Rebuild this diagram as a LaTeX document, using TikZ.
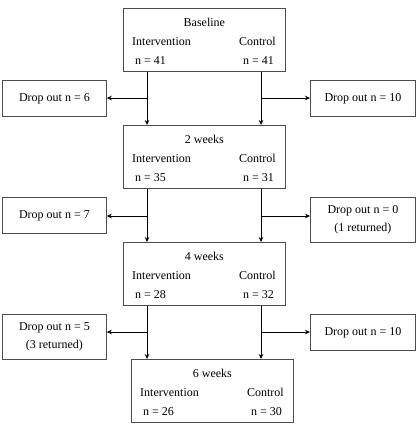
\documentclass[tikz,border=0pt]{standalone}
\usepackage{fontspec}
\setmainfont{Liberation Serif}
\usetikzlibrary{arrows.meta,calc}
\begin{document}
\begin{tikzpicture}[x=1pt,y=-1pt,
  stage/.style={draw=black!70, line width=0.8pt, inner sep=0pt, anchor=north west,
    minimum width=162pt, minimum height=63pt},
  drop/.style={draw=black!70, line width=0.8pt, inner sep=0pt, anchor=north west,
    align=center, font=\fontsize{12}{18}\selectfont},
  txt/.style={inner sep=0pt, font=\fontsize{12}{14}\selectfont},
  line/.style={line width=0.8pt},
  conn/.style={line width=0.8pt, -{Stealth[length=5pt,width=4.5pt]}}]
\useasboundingbox (0,0) rectangle (418,431);

% stage boxes
\node[stage] (b0) at (123,8) {};
\node[stage] (b1) at (123,125) {};
\node[stage] (b2) at (123,242) {};
\node[stage] (b3) at (131,359) {};

% stage texts
\foreach \b/\t/\l/\r in {b0/Baseline/41/41, b1/2 weeks/35/31, b2/4 weeks/28/32, b3/6 weeks/26/30}{
  \node[txt, anchor=base] (\b-title) at ($(\b.north)+(0,18)$) {\t};
  \node[txt, anchor=base west] (\b-int) at ($(\b.north west)+(9,37)$) {Intervention};
  \node[txt, anchor=base east] (\b-con) at ($(\b.north west)+(153,37)$) {Control};
  \node[txt, anchor=base west] (\b-nl) at ($(\b.north west)+(12,56)$) {n = \l};
  \node[txt, anchor=base west] (\b-nr) at ($(\b.north west)+(120,56)$) {n = \r};
}

% drop-out boxes
\node[drop, minimum width=104pt, minimum height=36pt] (dL0) at (2,80) {Drop out n = 6};
\node[drop, minimum width=105pt, minimum height=36pt] (dR0) at (310,80) {Drop out n = 10};
\node[drop, minimum width=104pt, minimum height=36pt] (dL1) at (2,197) {Drop out n = 7};
\node[drop, minimum width=105pt, minimum height=45pt] (dR1) at (310,197) {Drop out n = 0\\(1 returned)};
\node[drop, minimum width=104pt, minimum height=45pt] (dL2) at (2,314) {Drop out n = 5\\(3 returned)};
\node[drop, minimum width=105pt, minimum height=36pt] (dR2) at (310,314) {Drop out n = 10};

% branch points
\coordinate (j0L) at (147,98);
\coordinate (j0R) at (261,98);
\coordinate (j1L) at (147,216);
\coordinate (j1R) at (261,216);
\coordinate (j2L) at (147,332);
\coordinate (j2R) at (261,332);

% connectors
\foreach \a/\n/\j/\dl/\dr in {b0/b1/0/dL0/dR0, b1/b2/1/dL1/dR1, b2/b3/2/dL2/dR2}{
  \draw[line] (\a.south -| j\j L) -- (j\j L);
  \draw[line] (\a.south -| j\j R) -- (j\j R);
  \draw[conn] (j\j L) -- (\n.north -| j\j L);
  \draw[conn] (j\j R) -- (\n.north -| j\j R);
  \draw[conn] (j\j L) -- (\dl.east |- j\j L);
  \draw[conn] (j\j R) -- (\dr.west |- j\j R);
}
\end{tikzpicture}
\end{document}
